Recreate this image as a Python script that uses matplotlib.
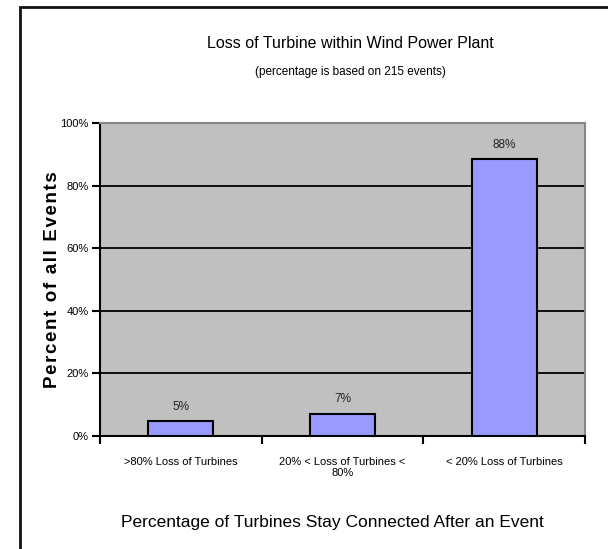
import matplotlib
matplotlib.use("Agg")
import matplotlib.pyplot as plt
from matplotlib.patches import Rectangle

font = ['Liberation Sans', 'DejaVu Sans']

categories = [">80% Loss of Turbines", "20% < Loss of Turbines <\n80%", "< 20% Loss of Turbines"]
counts = [10, 15, 190]
total_events = 215
values = [c / total_events * 100 for c in counts]
labels = ["5%", "7%", "88%"]
yticks = [0, 20, 40, 60, 80, 100]
yticklabels = ["0%", "20%", "40%", "60%", "80%", "100%"]

W, H = 608, 549
fig = plt.figure(figsize=(W / 100, H / 100), dpi=100)
fig.patch.set_facecolor('white')

# outer chart border
fig.patches.append(Rectangle((20 / W, -0.05), 1.2, 1 - 7 / H + 0.05, transform=fig.transFigure,
                             fill=False, edgecolor='#111111', linewidth=2))

ax = fig.add_axes([100 / W, 1 - 436 / H, 485 / W, 313 / H])
ax.set_facecolor('#c0c0c0')
x = list(range(len(categories)))
ax.bar(x, values, width=0.40, color='#9999ff', edgecolor='black', linewidth=1.5, zorder=3)
for xi, v, lab in zip(x, values, labels):
    ax.text(xi, v + 2.8, lab, ha='center', va='bottom', fontsize=8.5, family=font, color='#222222')

ax.set_xlim(-0.5, 2.5)
ax.set_ylim(0, 100)
ax.set_yticks(yticks)
ax.set_yticklabels(yticklabels, family=font, fontsize=8)
ax.yaxis.grid(True, color='black', linewidth=1.3, zorder=1)
ax.set_axisbelow(True)
ax.set_xticks(x)
ax.set_xticklabels(categories, family=font, fontsize=8, linespacing=1.15)
ax.set_xticks([-0.5, 0.5, 1.5, 2.5], minor=True)
ax.tick_params(axis='x', which='major', length=0, pad=15)
ax.tick_params(axis='x', which='minor', length=6, width=1.5, direction='out')
ax.tick_params(axis='y', length=6, width=1.5, direction='out', pad=2)
for s in ['left', 'bottom']:
    ax.spines[s].set_linewidth(1.5)
    ax.spines[s].set_color('black')
for s in ['top', 'right']:
    ax.spines[s].set_linewidth(1.5)
    ax.spines[s].set_color('#888888')

ylab = "\u200a".join("Percent of all Events")
ax.set_ylabel(ylab, fontsize=13.5, fontweight='bold', family=font, va='center')
ax.yaxis.set_label_coords((53 - 100) / 485, 0.5)
ax.set_xlabel("Percentage of Turbines Stay Connected After an Event", fontsize=12.5, family=font, va='center')
ax.xaxis.set_label_coords(0.48, (436 - 522) / 313)

fig.text(350 / W, 1 - 44 / H, "Loss of Turbine within Wind Power Plant", ha='center', va='center',
         fontsize=11.5, family=font)
fig.text(350 / W, 1 - 72 / H, "(percentage is based on 215 events)", ha='center', va='center',
         fontsize=8.5, family=font)

fig.savefig("out.png", dpi=100)
